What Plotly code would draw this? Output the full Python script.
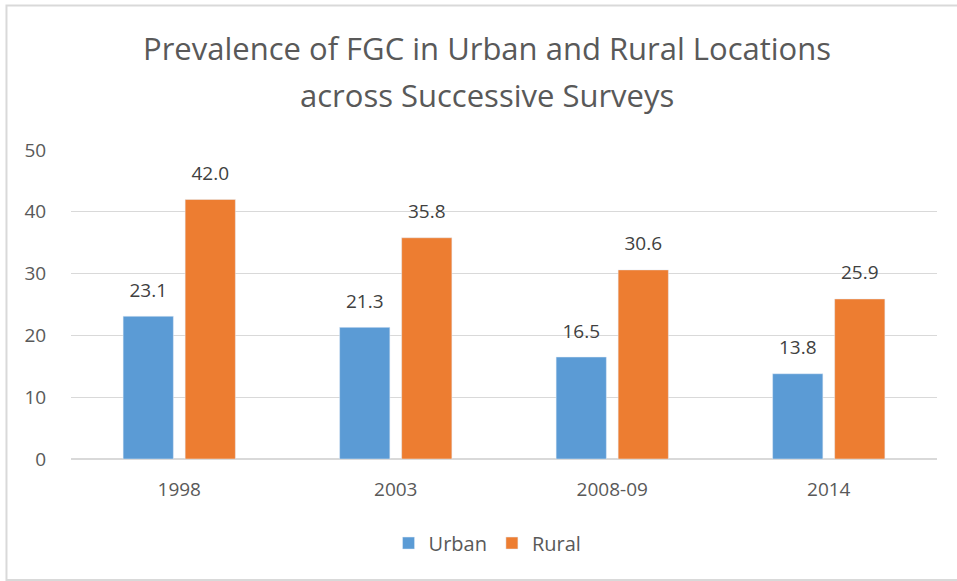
import plotly.graph_objects as go

categories = ["1998", "2003", "2008-09", "2014"]
urban = [23.1, 21.3, 16.5, 13.8]
rural = [42.0, 35.8, 30.6, 25.9]
y_ticks = [0, 10, 20, 30, 40, 50]
title_lines = ["Prevalence of FGC in Urban and Rural Locations", "across Successive Surveys"]

FONT = "Open Sans"
TXT = "#595959"
LBL = "#404040"
BLUE = "#5B9BD5"
ORANGE = "#ED7D31"

fig = go.Figure()
fig.add_trace(go.Bar(x=categories, y=urban, name="Urban", marker_color=BLUE,
                     offsetgroup="u", hoverinfo="x+y"))
fig.add_trace(go.Bar(x=categories, y=rural, name="Rural", marker_color=ORANGE,
                     offsetgroup="r", hoverinfo="x+y"))
# value labels, grouped alongside the bars
for vals, grp in [(urban, "u"), (rural, "r")]:
    fig.add_trace(go.Scatter(
        x=categories, y=vals, mode="markers+text", offsetgroup=grp,
        text=[f"{v:.1f}" for v in vals], textposition="top center",
        textfont=dict(size=19, color=LBL, family=FONT),
        marker=dict(size=22, opacity=0), showlegend=False, hoverinfo="skip",
        cliponaxis=False,
    ))

fig.update_layout(
    width=957, height=581,
    margin=dict(l=71, r=20, t=150, b=122),
    paper_bgcolor="white", plot_bgcolor="white",
    font=dict(family=FONT, color=TXT),
    barmode="group", bargap=0.427, bargroupgap=0.19,
    scattermode="group", scattergap=0.427,
    legend=dict(orientation="h", x=0.481, xanchor="center", y=-0.272, yanchor="middle",
                font=dict(size=20, color=TXT, family=FONT), itemwidth=30,
                traceorder="normal"),
    showlegend=True,
)
for txt, yy in zip(title_lines, [1.3285, 1.178]):
    fig.add_annotation(text=txt, xref="paper", yref="paper", x=0.48, y=yy,
                       xanchor="center", yanchor="middle", showarrow=False,
                       font=dict(size=31, color=TXT, family=FONT))

fig.update_yaxes(
    range=[0, 50], tickvals=y_ticks, showgrid=True, gridcolor="#D9D9D9", gridwidth=1,
    zeroline=True, zerolinecolor="#D9D9D9", zerolinewidth=1.5,
    ticks="outside", ticklen=20, tickcolor="rgba(0,0,0,0)",
    tickfont=dict(size=19, color=TXT, family=FONT), showline=False,
)
fig.update_xaxes(
    ticks="outside", ticklen=13, tickcolor="rgba(0,0,0,0)", showline=False,
    tickfont=dict(size=19, color=TXT, family=FONT),
)
# chart border
fig.add_shape(type="rect", xref="paper", yref="paper",
              x0=-0.0745, x1=1.03, y0=-0.3916, y1=1.4676,
              line=dict(color="#D9D9D9", width=2), fillcolor="rgba(0,0,0,0)", layer="below")

fig.write_html("out.html", config={"displayModeBar": False},
               post_script="document.body.style.margin='0';")
